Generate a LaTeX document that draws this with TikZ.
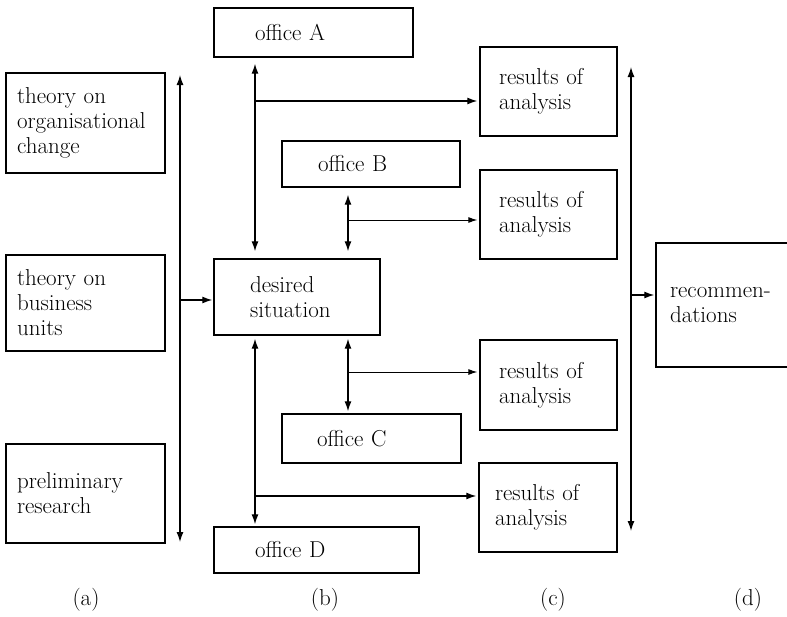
\documentclass[tikz,border=0pt]{standalone}
\usetikzlibrary{arrows.meta}
\begin{document}
\begin{tikzpicture}[x=1pt,y=-1pt,
  every node/.style={font=\fontsize{23}{25}\selectfont},
  box/.style={draw, line width=1.4pt, align=left, inner ysep=0pt},
  link/.style={line width=1.3pt, -{Latex[length=10pt,width=7pt]}},
  thinlink/.style={line width=0.9pt, -{Latex[length=9pt,width=6pt]}},
  both/.style={line width=1.3pt, {Latex[length=10pt,width=7pt]}-{Latex[length=10pt,width=7pt]}},
  tag/.style={inner sep=0pt}]
\useasboundingbox (0,0) rectangle (787,616);

% column (a): sources
\node[box, text width=137pt, inner xsep=11pt, minimum height=100pt] (thA) at (85.5,123) {theory on\\organisational\\change};
\node[box, text width=137pt, inner xsep=11pt, minimum height=96pt] (thB) at (85.5,303) {theory on\\business\\units};
\node[box, text width=137pt, inner xsep=11pt, minimum height=99pt] (pre) at (85.5,493.5) {preliminary\\research};

% column (b): offices and desired situation
\node[box, text width=117pt, inner xsep=41pt, minimum height=49pt] (oA) at (313.5,32.5) {office A};
\node[box, text width=106pt, inner xsep=36pt, minimum height=46pt] (oB) at (371,164) {office B};
\node[box, text width=94pt, inner xsep=36pt, minimum height=76pt] (des) at (297,297) {desired\\situation};
\node[box, text width=109pt, inner xsep=35pt, minimum height=49pt] (oC) at (371.5,438.5) {office C};
\node[box, text width=123pt, inner xsep=41pt, minimum height=46pt] (oD) at (316.5,550) {office D};

% column (c): results
\node[box, text width=99pt, inner xsep=19pt, minimum height=89pt] (r1) at (548.5,91.5) {results of\\analysis};
\node[box, text width=99pt, inner xsep=19pt, minimum height=89pt] (r2) at (548.5,214.5) {results of\\analysis};
\node[box, text width=99pt, inner xsep=19pt, minimum height=90pt] (r3) at (548.5,385) {results of\\analysis};
\node[box, text width=106pt, inner xsep=16pt, minimum height=89pt] (r4) at (548,507.5) {results of\\analysis};

% column (d): recommendations
\node[box, text width=116pt, inner xsep=14pt, minimum height=124pt] (rec) at (728,305) {recommen-\\dations};

% collector line on the left
\coordinate (lTop) at (180,75);
\coordinate (lBot) at (180,542);
\coordinate (lMid) at (180,300);
\draw[both] (lBot) -- (lTop);
\draw[link, shorten >=1pt] (lMid) -- (lMid -| des.west);

% office A <-> desired situation
\coordinate (xA) at (255,0);
\draw[both, shorten <=6pt, shorten >=7pt] (xA |- oA.south) -- (xA |- des.north);
\coordinate (jA) at (255,101);
\draw[link, shorten >=2pt] (jA) -- (jA -| r1.west);

% office B <-> desired situation
\coordinate (xB) at (348,0);
\draw[both, shorten <=7pt, shorten >=7pt] (xB |- oB.south) -- (xB |- des.north);
\coordinate (jB) at (348,220);
\draw[thinlink, shorten >=2pt] (jB) -- (jB -| r2.west);

% desired situation <-> office C
\draw[both, shorten <=3pt, shorten >=2pt] (xB |- des.south) -- (xB |- oC.north);
\coordinate (jC) at (348,372);
\draw[thinlink, shorten >=2pt] (jC) -- (jC -| r3.west);

% desired situation <-> office D
\draw[both, shorten <=3pt, shorten >=2pt] (xA |- des.south) -- (xA |- oD.north);
\coordinate (jD) at (255,496);
\draw[link, shorten >=2pt] (jD) -- (jD -| r4.west);

% collector line on the right
\coordinate (rTop) at (631,67);
\coordinate (rBot) at (631,531);
\coordinate (rMid) at (631,295);
\draw[both] (rBot) -- (rTop);
\draw[link, shorten >=1pt] (rMid) -- (rMid -| rec.west);

% column tags
\node[tag] (ta) at (86,600) {(a)};
\node[tag] (tb) at (325,600) {(b)};
\node[tag] (tc) at (553,600) {(c)};
\node[tag] (td) at (748,600) {(d)};
\end{tikzpicture}
\end{document}
